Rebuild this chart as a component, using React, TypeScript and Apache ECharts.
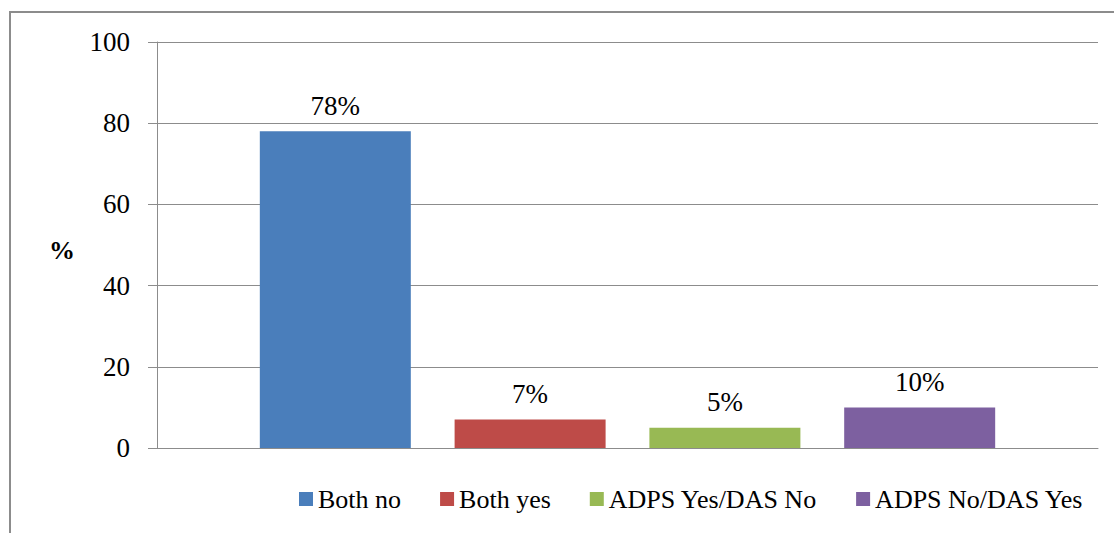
import React, { useEffect, useRef } from "react";
import * as echarts from "echarts";

const categories = [""];
const seriesNames = ["Both no", "Both yes", "ADPS Yes/DAS No", "ADPS No/DAS Yes"];
const seriesValues = [78, 7, 5, 10];
const seriesColors = ["#4a7ebb", "#be4b48", "#98b954", "#7d60a0"];
const yTicks = [0, 20, 40, 60, 80, 100];

const FONT = "'Liberation Serif', 'DejaVu Serif', serif";

export default function App() {
  const ref = useRef<HTMLDivElement>(null);
  useEffect(() => {
    if (!ref.current) return;
    const chart = echarts.init(ref.current, undefined, { renderer: "svg" });
    chart.setOption({
      animation: false,
      backgroundColor: "#ffffff",
      grid: { left: 157, right: 16, top: 42, bottom: 85, containLabel: false },
      legend: {
        left: 294,
        top: 481,
        itemWidth: 14,
        itemHeight: 14,
        itemGap: 39,
        icon: "rect",
        textStyle: { fontFamily: FONT, fontSize: 26, color: "#000" },
        data: seriesNames,
      },
      xAxis: {
        type: "category",
        data: categories,
        axisLine: { lineStyle: { color: "#8c8c8c", width: 1 } },
        axisTick: { show: false },
        axisLabel: { show: false },
      },
      yAxis: {
        type: "value",
        min: yTicks[0],
        max: yTicks[yTicks.length - 1],
        interval: 20,
        axisLine: { show: true, lineStyle: { color: "#8c8c8c", width: 1 } },
        axisTick: { show: true, length: 9, lineStyle: { color: "#8c8c8c" } },
        axisLabel: { margin: 27, fontFamily: FONT, fontSize: 27, color: "#000" },
        splitLine: { lineStyle: { color: "#8c8c8c", width: 1 } },
      },
      series: seriesNames.map((name, i) => ({
        type: "bar",
        name,
        data: [seriesValues[i]],
        barWidth: 151,
        barGap: "29%",
        itemStyle: { color: seriesColors[i] },
        label: {
          show: true,
          position: "top",
          distance: 12,
          formatter: "{c}%",
          fontFamily: FONT,
          fontSize: 27,
          color: "#000",
        },
      })),
      graphic: [
        {
          type: "rect",
          shape: { x: 10, y: 12, width: 1120, height: 540 },
          style: { fill: "none", stroke: "#8c8c8c", lineWidth: 2 },
          silent: true,
        },
        {
          type: "text",
          x: 62,
          y: 250,
          style: {
            text: "%",
            font: `bold 26px ${FONT}`,
            fill: "#000",
            align: "center",
            verticalAlign: "middle",
          },
        },
      ],
    });
    return () => chart.dispose();
  }, []);
  return (
    <div
      ref={ref}
      style={{ position: "absolute", left: 0, top: 0, width: 1114, height: 533 }}
    />
  );
}
